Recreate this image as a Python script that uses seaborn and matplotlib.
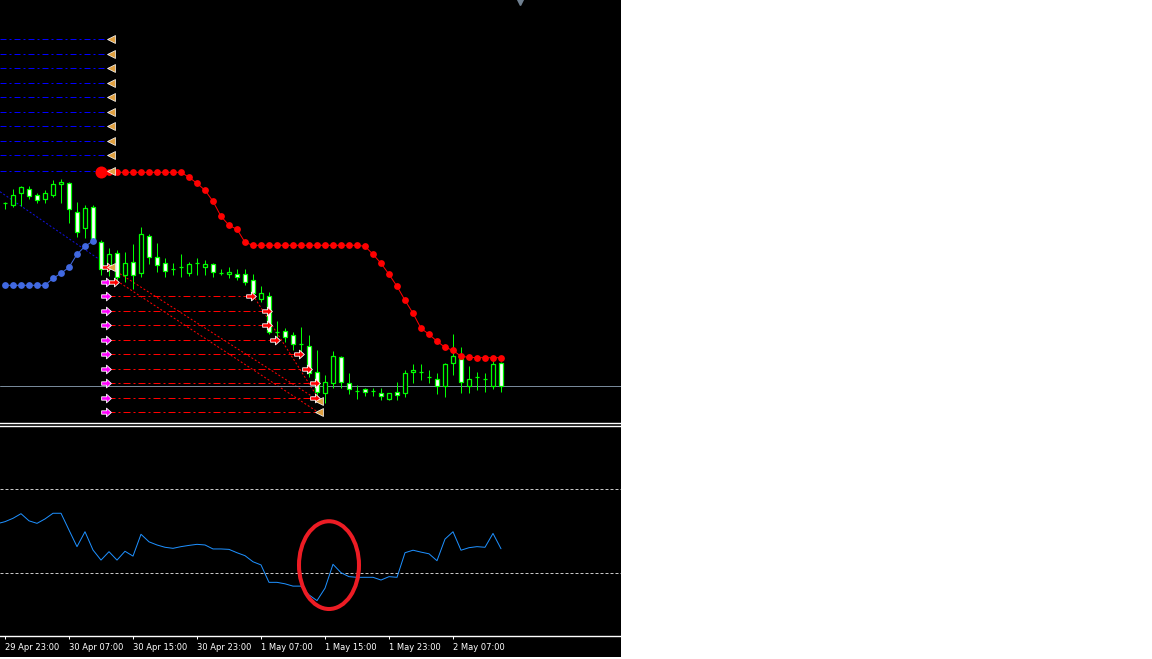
import numpy as np
import pandas as pd
import matplotlib
matplotlib.use('Agg')
import matplotlib.pyplot as plt
from matplotlib.patches import Ellipse, Rectangle
from matplotlib.path import Path
import seaborn as sns

# hourly candles, first bar = 29 Apr 23:00
opens = [1.12193, 1.12170, 1.12287, 1.12327, 1.12267, 1.12227, 1.12267, 1.12377, 1.12393, 1.12103,
         1.11937, 1.12153, 1.11797, 1.11560, 1.11687, 1.11473, 1.11605, 1.11495, 1.11865, 1.11655,
         1.11587, 1.11527, 1.11553, 1.11493, 1.11587, 1.11553, 1.11580, 1.11493, 1.11477, 1.11477,
         1.11477, 1.11420, 1.11230, 1.11257, 1.10903, 1.10910, 1.10870, 1.10785, 1.10760, 1.10497,
         1.10287, 1.10387, 1.10647, 1.10387, 1.10310, 1.10327, 1.10310, 1.10287, 1.10230, 1.10297,
         1.10287, 1.10497, 1.10497, 1.10453, 1.10427, 1.10363, 1.10593, 1.10627, 1.10363, 1.10447,
         1.10427, 1.10363, 1.10587]
highs = [1.12203, 1.12327, 1.12360, 1.12360, 1.12293, 1.12320, 1.12420, 1.12430, 1.12403, 1.12197,
         1.12170, 1.12170, 1.11820, 1.11737, 1.11720, 1.11705, 1.11777, 1.11947, 1.11880, 1.11795,
         1.11640, 1.11590, 1.11680, 1.11597, 1.11640, 1.11620, 1.11593, 1.11527, 1.11553, 1.11527,
         1.11527, 1.11480, 1.11360, 1.11303, 1.11010, 1.10943, 1.10903, 1.10950, 1.10870, 1.10720,
         1.10470, 1.10710, 1.10660, 1.10487, 1.10370, 1.10343, 1.10337, 1.10337, 1.10293, 1.10403,
         1.10520, 1.10577, 1.10577, 1.10520, 1.10487, 1.10593, 1.10880, 1.10753, 1.10560, 1.10497,
         1.10487, 1.10620, 1.10603]
lows = [1.12127, 1.12153, 1.12160, 1.12227, 1.12193, 1.12193, 1.12247, 1.12187, 1.11993, 1.11847,
        1.11837, 1.11793, 1.11470, 1.11460, 1.11420, 1.11400, 1.11330, 1.11450, 1.11585, 1.11503,
        1.11453, 1.11470, 1.11447, 1.11460, 1.11470, 1.11470, 1.11453, 1.11470, 1.11437, 1.11420,
        1.11370, 1.11247, 1.11203, 1.10885, 1.10853, 1.10803, 1.10720, 1.10670, 1.10453, 1.10230,
        1.10187, 1.10337, 1.10337, 1.10280, 1.10227, 1.10260, 1.10260, 1.10220, 1.10220, 1.10220,
        1.10253, 1.10393, 1.10420, 1.10387, 1.10280, 1.10253, 1.10470, 1.10293, 1.10293, 1.10320,
        1.10303, 1.10330, 1.10303]
closes = [1.12193, 1.12270, 1.12347, 1.12260, 1.12220, 1.12287, 1.12377, 1.12397, 1.12127, 1.11903,
          1.12137, 1.11803, 1.11527, 1.11677, 1.11450, 1.11587, 1.11473, 1.11880, 1.11647, 1.11575,
          1.11510, 1.11527, 1.11553, 1.11580, 1.11587, 1.11580, 1.11497, 1.11493, 1.11503, 1.11447,
          1.11397, 1.11293, 1.11287, 1.10897, 1.10903, 1.10847, 1.10777, 1.10785, 1.10487, 1.10303,
          1.10397, 1.10660, 1.10397, 1.10327, 1.10310, 1.10303, 1.10310, 1.10260, 1.10287, 1.10270,
          1.10487, 1.10520, 1.10497, 1.10453, 1.10360, 1.10580, 1.10660, 1.10397, 1.10427, 1.10447,
          1.10427, 1.10580, 1.10360]
bid = 1.10360

# supertrend: up (blue) on bars 0-11, down (red) on bars 12-62
st_up = [1.11367, 1.11367, 1.11367, 1.11367, 1.11367, 1.11367, 1.11437, 1.11487, 1.11547, 1.11677,
         1.11757, 1.11810]
st_down = [1.12497, 1.12497, 1.12497, 1.12497, 1.12497, 1.12497, 1.12497, 1.12497, 1.12497, 1.12497,
           1.12497, 1.12447, 1.12387, 1.12317, 1.12207, 1.12057, 1.11967, 1.11927, 1.11797, 1.11767,
           1.11767, 1.11767, 1.11767, 1.11767, 1.11767, 1.11767, 1.11767, 1.11767, 1.11767, 1.11767,
           1.11767, 1.11767, 1.11767, 1.11757, 1.11677, 1.11587, 1.11477, 1.11357, 1.11217, 1.11087,
           1.10937, 1.10877, 1.10807, 1.10747, 1.10717, 1.10657, 1.10647, 1.10643, 1.10643, 1.10643,
           1.10643]
st_flip_bar = 12

# RSI, starting one bar before the first full candle
rsi = [53.6, 54.6, 56.2, 58.4, 55.0, 53.8, 55.9, 58.6, 58.6, 50.6, 42.7,
       49.8, 41.1, 36.3, 40.3, 36.3, 40.5, 38.2, 48.6, 45.0, 43.5,
       42.4, 41.9, 42.7, 43.3, 43.8, 43.5, 41.6, 41.6, 41.4, 39.8,
       38.4, 35.5, 34.0, 25.7, 25.7, 25.0, 23.9, 23.9, 19.7, 17.0,
       22.9, 34.3, 30.3, 28.4, 28.1, 28.1, 28.1, 26.8, 28.4, 28.1,
       39.8, 41.0, 40.1, 39.3, 36.0, 46.3, 49.8, 41.0, 42.2, 42.7,
       42.4, 49.0, 41.7]
rsi_first_bar = -1
rsi_levels = [70, 30]

time_labels = ['29 Apr 23:00', '30 Apr 07:00', '30 Apr 15:00', '30 Apr 23:00',
               '1 May 07:00', '1 May 15:00', '1 May 23:00', '2 May 07:00']
time_bars = [0, 8, 16, 24, 32, 40, 48, 56]

# grid levels drawn by the EA
upper_levels = [1.13827, 1.13677, 1.13537, 1.13390, 1.13247, 1.13097, 1.12957, 1.12807, 1.12667, 1.12513]
upper_end = 12.9
upper_mark = 13.25
lower_levels = [1.11257, 1.11110, 1.10967, 1.10820, 1.10677, 1.10527, 1.10387, 1.10237, 1.10097]
lower_start = 12.875
lower_end = [30.75, 32.6, 32.6, 33.6, 36.6, 37.6, 38.5, 38.75, 39.0]
entry_levels = [1.11400] + lower_levels
entry_bar = 12.6
hit_bars = [13.6, 30.75, 32.7, 32.7, 33.75, 36.7, 37.7, 38.75, 38.75]
hit_levels = [1.11400, 1.11257, 1.11110, 1.10967, 1.10820, 1.10677, 1.10527, 1.10387, 1.10237]
first_sig = (12.7, 1.11547)
close_marks_bar = [13.2, 39.25, 39.25]
close_marks_level = [1.11547, 1.10210, 1.10097]
red_trend_lines = [((13.1, 39.1), (1.11547, 1.10220)),
                   ((14.4, 39.1), (1.11390, 1.10100)),
                   ((31.25, 38.9), (1.11237, 1.10270))]
blue_trend_line = ((-0.625, 11.9), (1.12303, 1.11620))
shift_bar = 64.4

sns.set_theme(style='dark')
plt.rcParams['font.family'] = ['DejaVu Sans']

W, H = 1152, 659
fig = plt.figure(figsize=(W / 100, H / 100), dpi=100, facecolor='white')

def box(x0, y0, x1, y1):
    return [x0 / W, 1 - y1 / H, (x1 - x0) / W, (y1 - y0) / H]

fig.patches.append(Rectangle((0, 1 - 657 / H), 621 / W, 657 / H, transform=fig.transFigure,
                             facecolor='black', edgecolor='none', zorder=-5))

ax = fig.add_axes(box(0, 0, 621, 423), facecolor='black')
ax2 = fig.add_axes(box(0, 425.5, 621, 636.3), facecolor='black')
xlim = (-0.625, 77.0)
px = 0.72

df = pd.DataFrame({'open': opens, 'high': highs, 'low': lows, 'close': closes})
df['bar'] = np.arange(len(df))
df['bottom'] = df[['open', 'close']].min(axis=1)
df['height'] = (df['close'] - df['open']).abs()
df['fill'] = np.where(df['close'] > df['open'], 'black', 'white')

# levels and signals (behind candles)
ax.hlines(upper_levels, xlim[0], upper_end, colors='#0000ff', lw=px, linestyles=[(0, (6, 3, 2, 3))], zorder=1)
ax.plot([upper_mark] * len(upper_levels), upper_levels, ls='none', marker='<', ms=5.5,
        mfc='#e0a040', mec='white', mew=0.5, zorder=7)
ax.hlines(lower_levels, lower_start, lower_end, colors='#ff0000', lw=px, linestyles=[(0, (7, 3, 2, 3))], zorder=1)
for (xs, ys) in red_trend_lines:
    ax.plot(xs, ys, color='#ff0000', lw=px, ls=(0, (2, 2)), zorder=1)
ax.plot(blue_trend_line[0], blue_trend_line[1], color='#1010e0', lw=px, ls=(0, (2, 2)), zorder=1)
ax.axhline(bid, color='#778899', lw=px, zorder=2)

# candles
ax.vlines(df['bar'], df['low'], df['high'], color='#00ff00', lw=px, zorder=3)
ax.bar(df['bar'], df['height'], bottom=df['bottom'], width=0.55, color=df['fill'],
       edgecolor='#00ff00', linewidth=0.9, zorder=4)

# supertrend
up_bars = np.arange(len(st_up))
dn_bars = np.arange(st_flip_bar, st_flip_bar + len(st_down))
sns.lineplot(x=up_bars, y=st_up, ax=ax, color='#4169e1', lw=px, zorder=5)
sns.scatterplot(x=up_bars, y=st_up, ax=ax, color='#4169e1', s=24, linewidth=0, zorder=5)
sns.lineplot(x=dn_bars, y=st_down, ax=ax, color='#ff0000', lw=px, zorder=5)
sns.scatterplot(x=dn_bars, y=st_down, ax=ax, color='#ff0000', s=24, linewidth=0, zorder=5)
sns.scatterplot(x=[dn_bars[0]], y=[st_down[0]], ax=ax, color='#ff0000', s=75, linewidth=0, zorder=6)

# arrows
arrow = Path([(-1, -0.35), (0.0, -0.35), (0.0, -0.9), (1, 0), (0.0, 0.9), (0.0, 0.35), (-1, 0.35), (-1, -0.35)],
             [Path.MOVETO] + [Path.LINETO] * 6 + [Path.CLOSEPOLY])
ax.plot([entry_bar] * len(entry_levels), entry_levels, ls='none', marker=arrow, ms=7,
        mfc='#ff00ff', mec='white', mew=0.6, zorder=8)
ax.plot(hit_bars, hit_levels, ls='none', marker=arrow, ms=7, mfc='#ff0000', mec='white', mew=0.6, zorder=8)
ax.plot([first_sig[0]], [first_sig[1]], ls='none', marker=arrow, ms=7, mfc='#ff0000', mec='white', mew=0.6, zorder=8)
ax.plot(close_marks_bar, close_marks_level, ls='none', marker='<', ms=5.5,
        mfc='#e0a040', mec='white', mew=0.5, zorder=9)

# chart shift marker
ax.plot([shift_bar], [1.0], marker='v', ms=7, color='#708090', transform=ax.get_xaxis_transform(), clip_on=False)

ax.set_xlim(*xlim)
ax.set_ylim(1.0999, 1.1422)
ax.set_xticks([])
ax.set_yticks([])
ax.set_xlabel('')
ax.set_ylabel('')
for side in ['top', 'left', 'right']:
    ax.spines[side].set_visible(False)
ax.spines['bottom'].set_color('white')
ax.spines['bottom'].set_linewidth(1.0)

# RSI panel
rsi_bars = np.arange(rsi_first_bar, rsi_first_bar + len(rsi))
for lvl in rsi_levels:
    ax2.axhline(lvl, color='#c8c8c8', lw=px, ls=(0, (3, 2)), zorder=1)
sns.lineplot(x=rsi_bars, y=rsi, ax=ax2, color='#1e90ff', lw=px, zorder=3)
ax2.add_patch(Ellipse((40.5, 33.9), 7.5, 41.8, fill=False, ec='#ed1c24', lw=2.9, zorder=4))
ax2.set_xlim(*xlim)
ax2.set_ylim(0, 100.4)
ax2.set_yticks([])
ax2.set_ylabel('')
ax2.set_xticks(time_bars)
ax2.set_xticklabels(time_labels, fontsize=6, color='white', ha='left')
ax2.tick_params(axis='x', direction='out', length=2.2, width=px, color='white', pad=2.5, bottom=True)
for side in ['left', 'right']:
    ax2.spines[side].set_visible(False)
for side in ['top', 'bottom']:
    ax2.spines[side].set_color('white')
    ax2.spines[side].set_linewidth(1.0)

fig.savefig('out.png', dpi=100, facecolor='white')
